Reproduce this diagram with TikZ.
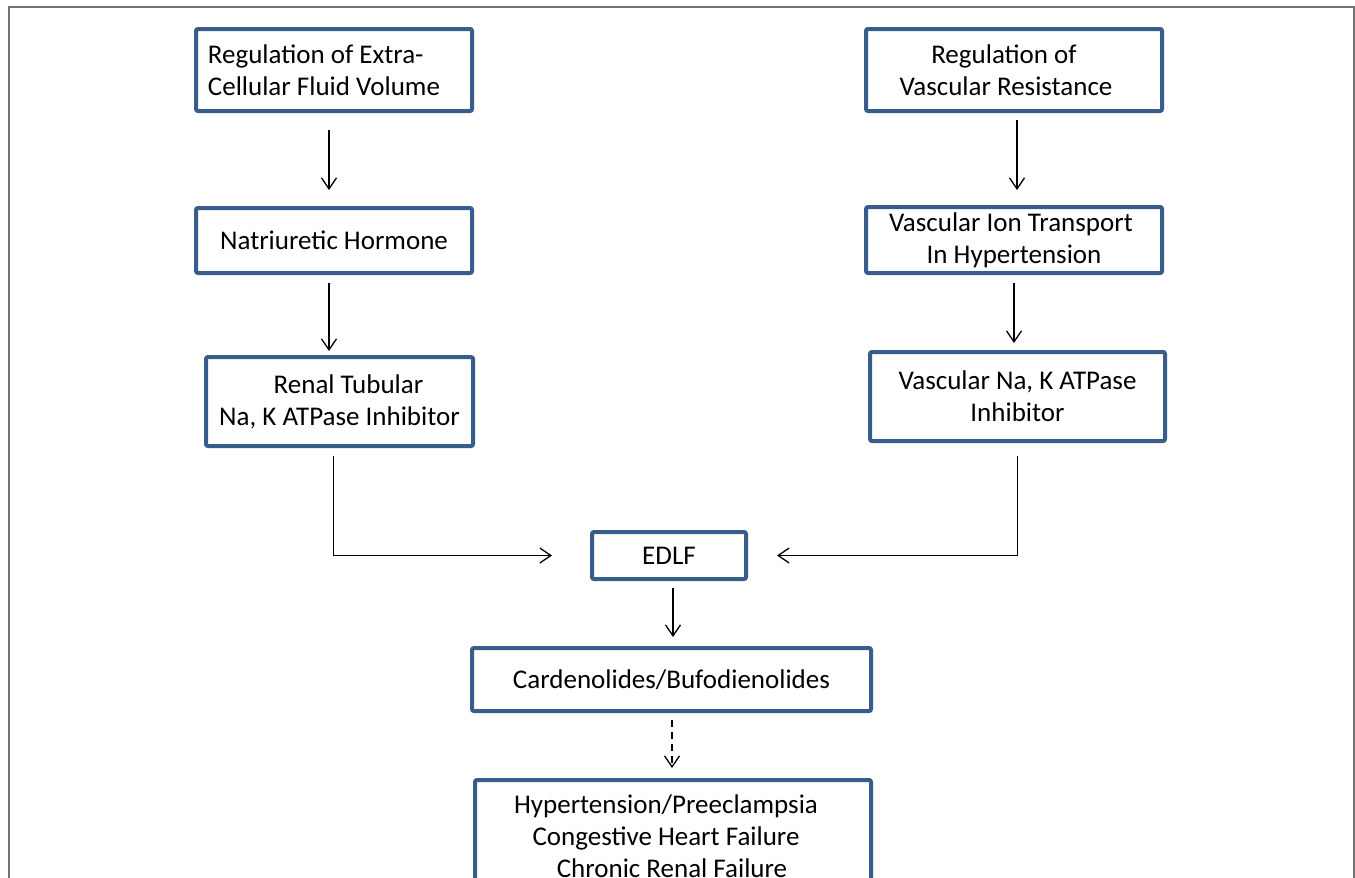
\documentclass[tikz,border=0pt]{standalone}
\usepackage{fontspec}
\setmainfont{Carlito}
\usetikzlibrary{arrows.meta,calc}
\definecolor{boxblue}{HTML}{385D8A}
\tikzset{
  fbox/.style={draw=boxblue, line width=4pt, rounded corners=2pt, fill=white, align=center, inner sep=0pt, font=\fontsize{27}{32}\selectfont},
  arr/.style={draw=black, line width=1.3pt, -{Straight Barb[length=11pt,width=15pt,line width=1.3pt]}},
  dasharr/.style={arr, dash pattern=on 7pt off 5pt},
}
\begin{document}
\begin{tikzpicture}[x=1pt,y=-1pt]
\useasboundingbox (0,0) rectangle (1355,878);
\clip (0,0) rectangle (1355,878);
\fill[white] (0,0) rectangle (1355,878);
\draw[black!55, line width=1.5pt] (9,7) rectangle (1354,920);

\node[fbox, minimum width=276, minimum height=82, align=left] (ecf) at (334,70) {Regulation of Extra-\\\mbox{Cellular Fluid Volume\hspace{20pt}}};
\node[fbox, minimum width=276, minimum height=65] (nat) at (334,240.5) {Natriuretic Hormone};
\node[fbox, minimum width=267, minimum height=89] (ren) at (339.5,401.5) {\mbox{\hspace{18pt}Renal Tubular}\\Na, K ATPase Inhibitor};
\node[fbox, minimum width=296, minimum height=82] (rvr) at (1014,70) {\mbox{Regulation of\hspace{20pt}}\\\mbox{Vascular Resistance\hspace{16pt}}};
\node[fbox, minimum width=296, minimum height=66] (vit) at (1014,240) {\mbox{Vascular Ion Transport\hspace{6pt}}\\In Hypertension};
\node[fbox, minimum width=295, minimum height=89] (vna) at (1017.5,396.5) {Vascular Na, K ATPase\\Inhibitor};
\node[fbox, minimum width=154, minimum height=47] (edlf) at (669,555.5) {EDLF};
\node[fbox, minimum width=399, minimum height=63] (card) at (671.5,679.5) {Cardenolides/Bufodienolides};
\node[fbox, minimum width=396, minimum height=112] (dis) at (673,836) {\mbox{Hypertension/Preeclampsia\hspace{14pt}}\\\mbox{Congestive Heart Failure\hspace{14pt}}\\\mbox{Chronic Renal Failure\hspace{2pt}}};

\draw[arr] ([xshift=-5pt,yshift=-17pt]ecf.south) -- ([xshift=-5pt,yshift=16pt]nat.north);
\draw[arr] ([xshift=-5pt,yshift=-8pt]nat.south) -- ([xshift=-10.5pt,yshift=4pt]ren.north);
\draw[arr] ([xshift=-6pt,yshift=-8pt]ren.south) |- ([xshift=-38pt]edlf.west);
\draw[arr] ([xshift=3pt,yshift=-7pt]rvr.south) -- ([xshift=3pt,yshift=15pt]vit.north);
\draw[arr] ([yshift=-8pt]vit.south) -- ([xshift=-3.5pt,yshift=7pt]vna.north);
\draw[arr] ([yshift=-13pt]vna.south) |- ([xshift=29pt]edlf.east);
\draw[arr] ([xshift=4pt,yshift=-7pt]edlf.south) -- ([xshift=1.5pt,yshift=9pt]card.north);
\draw[dasharr] ([xshift=0.5pt,yshift=-7pt]card.south) -- ([xshift=-1pt,yshift=10pt]dis.north);
\end{tikzpicture}
\end{document}
